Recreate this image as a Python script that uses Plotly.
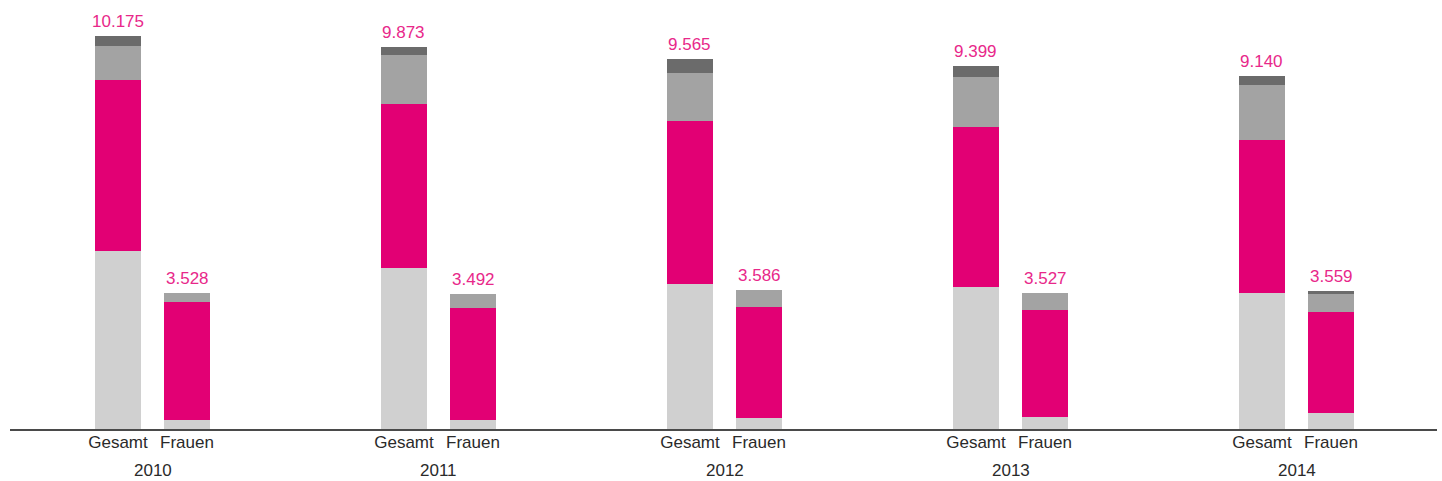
import plotly.graph_objects as go

# Years and bar groups
years = ["2010", "2011", "2012", "2013", "2014"]
bar_kinds = ["Gesamt", "Frauen"]

# Totals shown above the bars
gesamt_total = [10175, 9873, 9565, 9399, 9140]
frauen_total = [3528, 3492, 3586, 3527, 3559]

# Stack segments, bottom to top (Gesamt)
gesamt_light = [4600, 4176, 3744, 3683, 3512]
gesamt_magenta = [4419, 4228, 4231, 4120, 3963]
gesamt_mid = [899, 1263, 1231, 1313, 1427]
gesamt_dark = [257, 206, 359, 283, 238]

# Stack segments, bottom to top (Frauen)
frauen_light = [238, 243, 290, 318, 422]
frauen_magenta = [3051, 2897, 2874, 2758, 2610]
frauen_mid = [239, 352, 422, 451, 474]
frauen_dark = [0, 0, 0, 0, 53]

MAGENTA = "#E20074"
LABEL_PINK = "#E8288A"
LIGHT = "#D0D0D0"
MID = "#A3A3A3"
DARK = "#6B6B6B"
TEXT = "#2A2A2A"
FONT = "Liberation Sans"

group_step = 1.0
frauen_offset = 0.2413
bar_w = 0.1608

x_ges = [i * group_step for i in range(len(years))]
x_fra = [x + frauen_offset for x in x_ges]

fig = go.Figure()

segments = [
    (gesamt_light, frauen_light, LIGHT),
    (gesamt_magenta, frauen_magenta, MAGENTA),
    (gesamt_mid, frauen_mid, MID),
    (gesamt_dark, frauen_dark, DARK),
]
for g_vals, f_vals, color in segments:
    fig.add_trace(go.Bar(
        x=x_ges + x_fra,
        y=g_vals + f_vals,
        width=bar_w,
        marker=dict(color=color, line=dict(width=0)),
        showlegend=False,
        hoverinfo="skip",
    ))

# Total labels above each bar
for xs, totals in ((x_ges, gesamt_total), (x_fra, frauen_total)):
    for x, t in zip(xs, totals):
        txt = f"{t:,}".replace(",", ".")
        fig.add_annotation(
            x=x, y=t, text=txt, showarrow=False,
            yanchor="bottom", yshift=3,
            font=dict(family=FONT, size=17, color=LABEL_PINK),
        )

# Year labels under each group
for x, yr in zip(x_ges, years):
    fig.add_annotation(
        x=x + frauen_offset / 2, y=0, yref="paper", text=yr, showarrow=False,
        yanchor="middle", yshift=-41,
        font=dict(family=FONT, size=17, color=TEXT),
    )

tick_vals = []
tick_text = []
for xg, xf in zip(x_ges, x_fra):
    tick_vals += [xg, xf]
    tick_text += bar_kinds

x0 = -0.3776
x1 = x0 + 1427 / 286

fig.update_layout(
    barmode="stack",
    width=1442, height=481,
    margin=dict(l=10, r=5, t=0, b=52),
    paper_bgcolor="white",
    plot_bgcolor="white",
    xaxis=dict(
        range=[x0, x1],
        tickvals=tick_vals, ticktext=tick_text,
        ticks="", showgrid=False, zeroline=False,
        showline=True, linecolor="#4A4A4A", linewidth=2,
        tickfont=dict(family=FONT, size=17, color=TEXT),
        ticklabelstandoff=-3,
        fixedrange=True,
    ),
    yaxis=dict(
        range=[0, 11100], visible=False, showgrid=False, zeroline=False,
        fixedrange=True,
    ),
)

fig.write_html("out.html")
